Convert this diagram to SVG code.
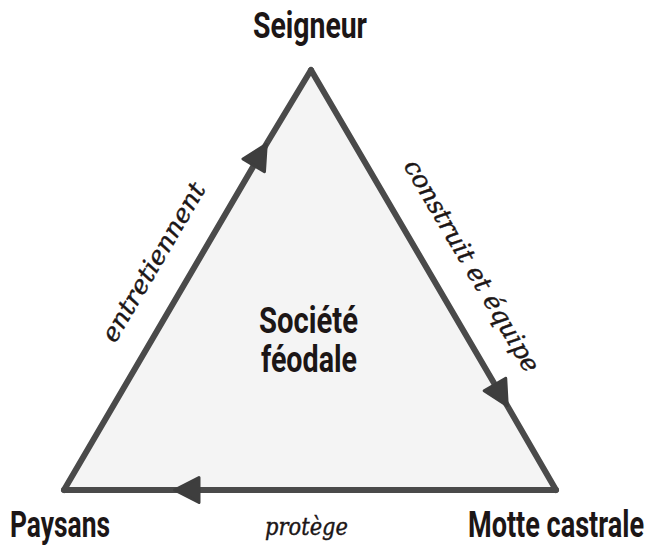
<svg xmlns="http://www.w3.org/2000/svg" width="653" height="546" viewBox="0 0 653 546">
<style>
.lbl{font-family:Roboto,"Liberation Sans",sans-serif;font-weight:700;font-size:36px;fill:#1c1616;text-anchor:middle}
.rel{font-family:"DejaVu Serif","Liberation Serif",serif;font-style:italic;font-size:25px;fill:#1c1616;stroke:#1c1616;stroke-width:0.45;text-anchor:middle}
.edge{fill:none;stroke:#4a4a4a;stroke-width:6;stroke-linecap:round;marker-mid:url(#ah)}
</style>
<defs>
<marker id="ah" markerUnits="userSpaceOnUse" viewBox="-32 -17 34 34" markerWidth="34" markerHeight="34" refX="0" refY="0" orient="auto" overflow="visible">
<path d="M-1.5,0 L-26,-12.5 L-26,12.5 Z" fill="#3e3e3e" stroke="#3e3e3e" stroke-width="3" stroke-linejoin="round"/>
</marker>
</defs>
<rect width="653" height="546" fill="#ffffff"/>
<polygon id="fond" points="311,70 556,490 64,490" fill="#f4f4f4"/>
<g id="connectors">
<path class="edge" d="M64,490 L267,143 L311,70"/>
<path class="edge" d="M311,70 L508,407 L556,490"/>
<path class="edge" d="M556,490 L173,490 L64,490"/>
</g>
<g id="seigneur"><text class="lbl" transform="translate(310,38) scale(0.75,1)" textLength="152" lengthAdjust="spacingAndGlyphs">Seigneur</text></g>
<g id="paysans"><text class="lbl" transform="translate(60,537) scale(0.75,1)" textLength="133.3" lengthAdjust="spacingAndGlyphs">Paysans</text></g>
<g id="motte"><text class="lbl" transform="translate(556,537) scale(0.75,1)" textLength="234.7" lengthAdjust="spacingAndGlyphs">Motte castrale</text></g>
<g id="societe">
<text class="lbl" transform="translate(308.5,333) scale(0.75,1)" textLength="132" lengthAdjust="spacingAndGlyphs">Société</text>
<text class="lbl" transform="translate(309,372) scale(0.75,1)" textLength="128" lengthAdjust="spacingAndGlyphs">féodale</text>
</g>
<g id="labels">
<text class="rel" transform="translate(160.7,266.4) rotate(-59.5)" textLength="180" lengthAdjust="spacingAndGlyphs">entretiennent</text>
<text class="rel" transform="translate(464.7,270.1) rotate(59.5)" textLength="242" lengthAdjust="spacingAndGlyphs">construit et équipe</text>
<text class="rel" x="306.5" y="535" textLength="83" lengthAdjust="spacingAndGlyphs">protège</text>
</g>
</svg>
